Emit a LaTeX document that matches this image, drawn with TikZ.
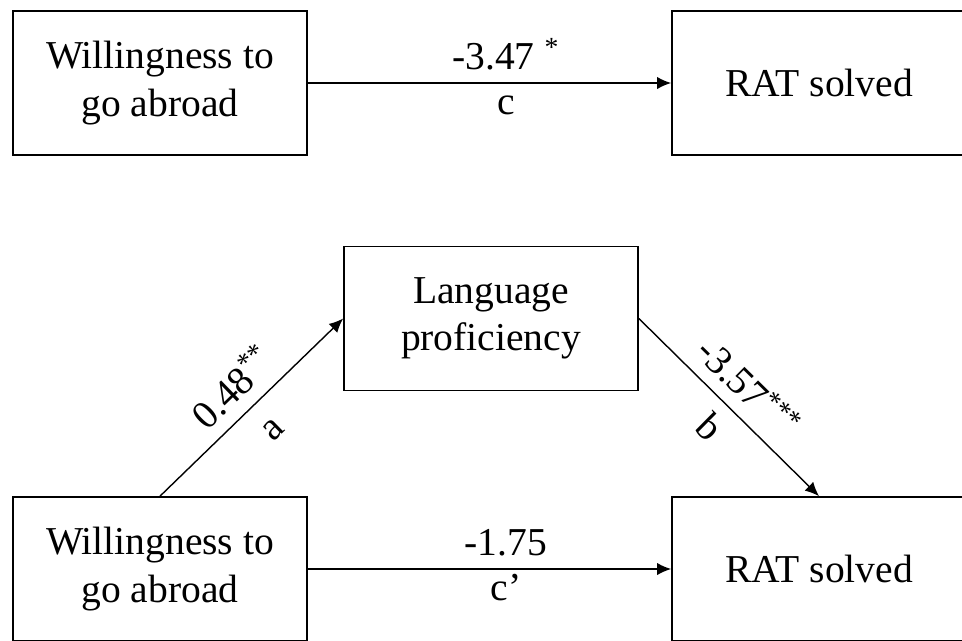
\documentclass[tikz,border=0pt]{standalone}
\usepackage{fontspec}
\setmainfont{Liberation Serif}
\usetikzlibrary{arrows.meta,positioning}

\begin{document}
\begin{tikzpicture}[x=0.02cm,y=-0.02cm]
\tikzset{box/.style={draw,line width=1pt,minimum width=5.88cm,minimum height=2.88cm,align=center,inner sep=0pt,font=\fontsize{22.5}{27}\selectfont},
lbl/.style={inner sep=7pt,font=\fontsize{22.5}{27}\selectfont},
arr/.style={-{Latex[length=8pt,width=7pt]},line width=0.8pt}}
\useasboundingbox (0,0) rectangle (962,640);
\clip (0,0) rectangle (962,640);
% total effect
\node[box] (w1) at (160,83) {Willingness to\\go abroad};
\node[box] (r1) at (819,83) {RAT solved};
\draw[arr] (w1.east) to node[pos=0.545,above,lbl] {-3.47 \textsuperscript{*}} node[pos=0.545,below,lbl] {c} (r1.west);
% mediation
\node[box] (lp) at (491,318.5) {Language\\proficiency};
\node[box] (w2) at (160,569) {Willingness to\\go abroad};
\node[box] (r2) at (819,569) {RAT solved};
\draw[arr] (w2.north) to node[above,sloped,lbl] {0.48\textsuperscript{**}} node[below,sloped,lbl] {\vphantom{b}a} (lp.west); %a
\draw[arr] (lp.east) to node[above,sloped,lbl] {-3.57\textsuperscript{***}} node[below,sloped,lbl] {b} (r2.north); %b
\draw[arr] (w2.east) to node[pos=0.545,above,lbl] {-1.75} node[pos=0.545,below,lbl,text height=10.5pt] {c’} (r2.west); %c'
\end{tikzpicture}
\end{document}
